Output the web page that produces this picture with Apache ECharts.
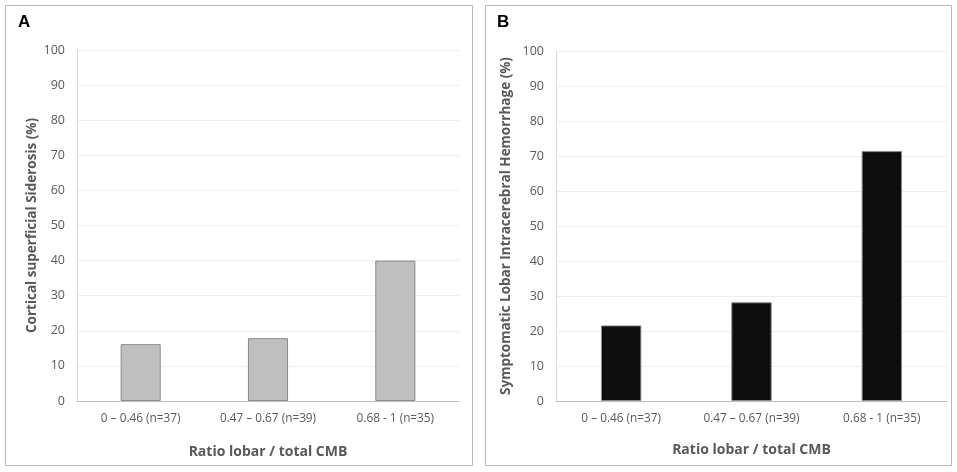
<!DOCTYPE html>
<html><head><meta charset="utf-8">
<script src="https://cdn.jsdelivr.net/npm/echarts@6/dist/echarts.min.js"></script>
<style>html,body{margin:0;padding:0;background:#fff}#c{width:957px;height:472px}</style>
</head><body><div id="c"></div>
<script>
const categories = ['0 – 0.46 (n=37)', '0.47 – 0.67 (n=39)', '0.68 - 1 (n=35)'];
const sideroseValues = [16.2, 17.9, 40.0];
const hemorrhageValues = [21.6, 28.2, 71.4];
const yTicks = [0, 10, 20, 30, 40, 50, 60, 70, 80, 90, 100];
const panelLabels = ['A', 'B'];
const yTitles = ['Cortical superficial Siderosis (%)', 'Symptomatic Lobar Intracerebral Hemorrhage (%)'];
const xTitle = 'Ratio lobar / total CMB';

const font = '"Open Sans", "Noto Sans", sans-serif';
const txt = '#595959';
const chart = echarts.init(document.getElementById('c'));

function xAxis(i) {
  return {
    type: 'category', gridIndex: i, data: categories,
    name: xTitle, nameLocation: 'middle', nameGap: i === 0 ? 44 : 42,
    nameTextStyle: {fontFamily: font, fontSize: 14, fontWeight: 'bold', color: txt},
    axisLine: {lineStyle: {color: '#bfbfbf', width: 1}},
    axisTick: {show: false},
    axisLabel: {fontFamily: font, fontSize: 11.8, color: txt, margin: 12}
  };
}
function yAxis(i) {
  return {
    type: 'value', gridIndex: i, min: yTicks[0], max: yTicks[yTicks.length - 1], interval: 10,
    name: yTitles[i], nameLocation: 'middle', nameGap: i === 0 ? 38 : 43,
    nameTextStyle: {fontFamily: font, fontSize: 13.5, fontWeight: 'bold', color: txt},
    axisLine: {show: true, lineStyle: {color: '#d9d9d9'}},
    axisTick: {show: false},
    axisLabel: {fontFamily: font, fontSize: 12.5, color: txt, margin: 12},
    splitLine: {lineStyle: {color: '#eeeeee'}}
  };
}

chart.setOption({
  animation: false,
  graphic: [
    {type: 'rect', shape: {x: 5.5, y: 5.5, width: 467, height: 460}, style: {fill: 'none', stroke: '#b8b8b8', lineWidth: 1}},
    {type: 'rect', shape: {x: 485.5, y: 5.5, width: 466, height: 460}, style: {fill: 'none', stroke: '#b8b8b8', lineWidth: 1}},
    {type: 'text', left: 18, top: 14, style: {text: panelLabels[0], font: 'bold 17px "Liberation Sans", Arial, sans-serif', fill: '#000'}},
    {type: 'text', left: 497, top: 14, style: {text: panelLabels[1], font: 'bold 17px "Liberation Sans", Arial, sans-serif', fill: '#000'}}
  ],
  grid: [
    {left: 77, right: 498, top: 50, bottom: 71},
    {left: 556, right: 10, top: 51, bottom: 71}
  ],
  xAxis: [xAxis(0), xAxis(1)],
  yAxis: [yAxis(0), yAxis(1)],
  series: [
    {type: 'bar', xAxisIndex: 0, yAxisIndex: 0, data: sideroseValues, barWidth: '31.5%',
     itemStyle: {color: '#bfbfbf', borderColor: '#8c8c8c', borderWidth: 1}},
    {type: 'bar', xAxisIndex: 1, yAxisIndex: 1, data: hemorrhageValues, barWidth: '31%',
     itemStyle: {color: '#0d0d0d', borderColor: '#8a8a8a', borderWidth: 1}}
  ]
});
</script></body></html>
